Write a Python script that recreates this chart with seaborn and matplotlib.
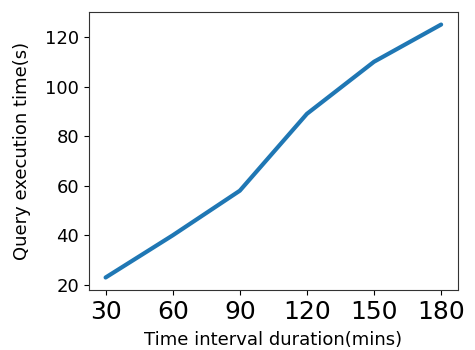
import pandas as pd
import matplotlib
matplotlib.use("Agg")
import matplotlib.pyplot as plt
import seaborn as sns

# data
durations = [30, 60, 90, 120, 150, 180]
exec_times = [23, 40, 58, 89, 110, 125]

df = pd.DataFrame({"duration": durations, "time": exec_times})

sns.set_style("ticks", {
    "axes.edgecolor": "#333333",
    "axes.labelcolor": "black",
    "text.color": "black",
    "xtick.color": "black",
    "ytick.color": "black",
})
plt.rcParams["font.family"] = ["DejaVu Sans"]
plt.rcParams["xtick.major.size"] = 3.5
plt.rcParams["ytick.major.size"] = 3.5
plt.rcParams["xtick.major.width"] = 0.8
plt.rcParams["ytick.major.width"] = 0.8
plt.rcParams["axes.linewidth"] = 0.8

fig, ax = plt.subplots(figsize=(4.75, 3.5), dpi=100)
sns.lineplot(data=df, x="duration", y="time", ax=ax, color="#1f77b4", linewidth=3)

ax.set_xticks(durations)
ax.tick_params(axis="x", labelsize=18)
ax.tick_params(axis="y", labelsize=13)
ax.set_xlabel("Time interval duration(mins)", fontsize=13, labelpad=5)
ax.set_ylabel("Query execution time(s)", fontsize=13, labelpad=10)

fig.subplots_adjust(left=0.187, right=0.964, top=0.966, bottom=0.171)
fig.savefig("out.png", dpi=100)
